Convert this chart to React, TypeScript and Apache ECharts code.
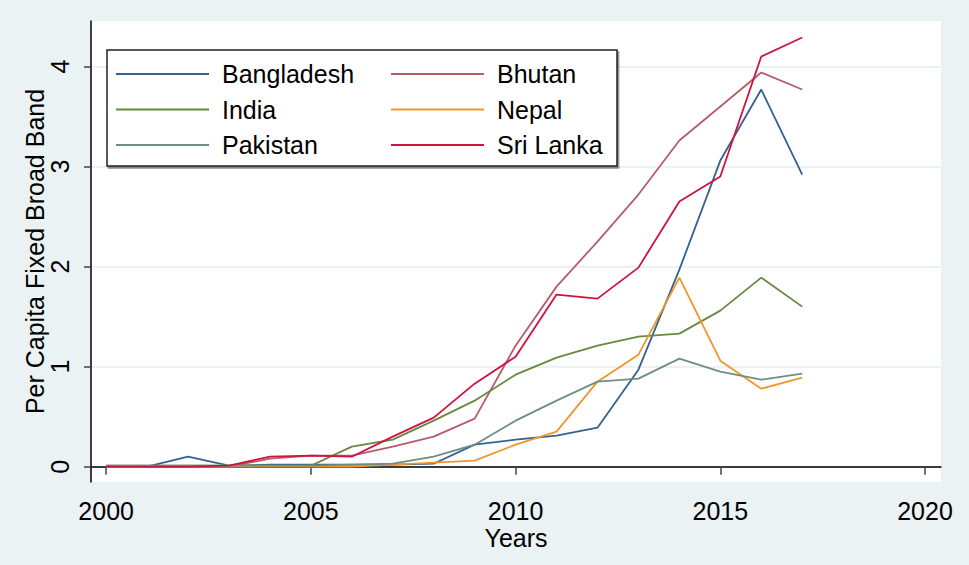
import React, { useEffect, useRef } from "react";
import * as echarts from "echarts";

const years = [2000, 2001, 2002, 2003, 2004, 2005, 2006, 2007, 2008, 2009, 2010, 2011, 2012, 2013, 2014, 2015, 2016, 2017];

const bangladesh = [0, 0, 0.1, 0.01, 0.02, 0.02, 0.02, 0.02, 0.03, 0.22, 0.27, 0.31, 0.39, 0.97, 1.97, 3.06, 3.77, 2.92];
const bhutan = [0, 0, 0, 0, 0.08, 0.11, 0.11, 0.2, 0.3, 0.48, 1.21, 1.8, 2.25, 2.72, 3.26, 3.6, 3.94, 3.77];
const india = [0.01, 0.01, 0.01, 0.01, 0.01, 0.01, 0.2, 0.27, 0.46, 0.66, 0.92, 1.09, 1.21, 1.3, 1.33, 1.56, 1.89, 1.6];
const nepal = [0, 0, 0, 0, 0, 0, 0, 0.02, 0.04, 0.06, 0.22, 0.35, 0.85, 1.12, 1.89, 1.06, 0.78, 0.89];
const pakistan = [0.01, 0.01, 0.01, 0.01, 0.01, 0.01, 0.02, 0.03, 0.1, 0.22, 0.46, 0.66, 0.85, 0.88, 1.08, 0.95, 0.87, 0.93];
const sriLanka = [0, 0, 0, 0.01, 0.1, 0.11, 0.1, 0.3, 0.49, 0.83, 1.1, 1.72, 1.68, 1.99, 2.65, 2.9, 4.1, 4.29];

const xTicks = [2000, 2005, 2010, 2015, 2020];
const yTicks = [0, 1, 2, 3, 4];

const seriesDefs = [
  { name: "Bangladesh", data: bangladesh, color: "#35618f" },
  { name: "Bhutan", data: bhutan, color: "#b85c68" },
  { name: "India", data: india, color: "#66893f" },
  { name: "Nepal", data: nepal, color: "#f0962a" },
  { name: "Pakistan", data: pakistan, color: "#6e8e84" },
  { name: "Sri Lanka", data: sriLanka, color: "#cf1240" },
];

const sans = "'Liberation Sans', Arial, sans-serif";

export default function App() {
  const ref = useRef<HTMLDivElement>(null);
  useEffect(() => {
    if (!ref.current) return;
    const chart = echarts.init(ref.current, null, { renderer: "svg" });
    const legendCommon = {
      orient: "vertical" as const,
      top: 59,
      padding: 0,
      icon: "rect",
      itemWidth: 93,
      itemHeight: 2,
      itemGap: 5.5,
      selectedMode: false,
      textStyle: { fontSize: 25, fontFamily: sans, color: "#000", lineHeight: 30, padding: [0, 0, 0, 8] },
    };
    chart.setOption({
      animation: false,
      backgroundColor: "#eaf2f3",
      grid: {
        left: 91,
        top: 21,
        right: 28,
        bottom: 83,
        show: true,
        backgroundColor: "#ffffff",
        borderWidth: 0,
        containLabel: false,
      },
      xAxis: {
        type: "value",
        min: 1999.63,
        max: 2020.39,
        name: "Years",
        nameLocation: "middle",
        nameGap: 43,
        nameMoveOverlap: false,
        nameTextStyle: { fontSize: 25, fontFamily: sans, color: "#000" },
        axisLine: { show: true, lineStyle: { color: "#000", width: 1.5 } },
        axisTick: { show: true, customValues: xTicks, length: 8, lineStyle: { color: "#444", width: 1.5 } },
        axisLabel: {
          customValues: xTicks,
          margin: 16,
          fontSize: 25,
          fontFamily: sans,
          color: "#000",
          formatter: (v: number) => String(Math.round(v)),
        },
        splitLine: { show: false },
      },
      yAxis: {
        type: "value",
        min: -0.153,
        max: 4.455,
        name: "Per Capita Fixed Broad Band",
        nameLocation: "middle",
        nameGap: 44,
        nameMoveOverlap: false,
        nameTextStyle: { fontSize: 25, fontFamily: sans, color: "#000" },
        axisLine: { show: true, lineStyle: { color: "#000", width: 1.5 } },
        axisTick: { show: true, customValues: yTicks, length: 7, lineStyle: { color: "#444", width: 1.5 } },
        axisLabel: {
          customValues: yTicks,
          rotate: 90,
          margin: 19,
          fontSize: 25,
          fontFamily: sans,
          color: "#000",
          formatter: (v: number) => String(Math.round(v)),
        },
        splitLine: { show: true, lineStyle: { color: "#eaf2f3", width: 2 } },
      },
      legend: [
        { ...legendCommon, left: 116, data: ["Bangladesh", "India", "Pakistan"] },
        { ...legendCommon, left: 391, data: ["Bhutan", "Nepal", "Sri Lanka"] },
      ],
      graphic: [
        {
          type: "rect",
          z: 3,
          shape: { x: 107, y: 50, width: 510, height: 116 },
          style: { fill: "#fff", stroke: "#222", lineWidth: 1.5, shadowColor: "rgba(0,0,0,0.45)", shadowOffsetX: 1.5, shadowOffsetY: 2, shadowBlur: 0 },
        },
      ],
      series: seriesDefs.map((s) => ({
        name: s.name,
        type: "line",
        symbol: "none",
        data: years.map((y, i) => [y, s.data[i]]),
        lineStyle: { color: s.color, width: 1.8 },
        itemStyle: { color: s.color },
        z: 2,
      })),
    });
    return () => chart.dispose();
  }, []);
  return <div ref={ref} style={{ position: "fixed", left: 0, top: 0, width: 969, height: 565 }} />;
}
